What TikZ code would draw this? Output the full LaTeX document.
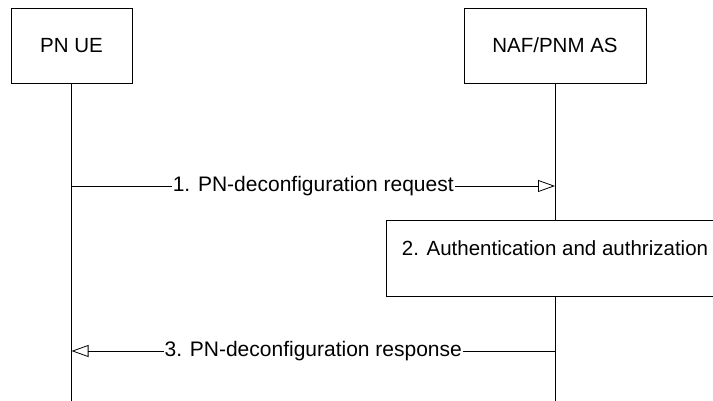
\documentclass[tikz,border=0pt]{standalone}
\usepackage{fontspec}
\setmainfont{Liberation Sans}
\usetikzlibrary{arrows.meta}

\begin{document}
\begin{tikzpicture}[x=1pt,y=-1pt]
\tikzset{entite/.style={draw,line width=0.8pt,minimum width=#1,minimum height=75pt,inner sep=0pt},
entite/.default={121pt},
message/.style={-{Triangle[open,length=17pt,width=12pt]},line width=0.8pt},
etiquette/.style={fill=white,inner sep=1pt}}
\clip (0,0) rectangle (713,401);
\fontsize{20.5}{24}\selectfont
\node[entite] (UE) at (71.5,45.5){PN UE};
\node[entite=182pt] (NAF) at (555,45.5){NAF/PNM AS};
\coordinate (UEbas) at (71.5,401);
\coordinate (NAFbas) at (555,401);

\coordinate (req1) at (71.5,186);
\coordinate (req2) at (555,186);
\node[entite=338pt,minimum height=76pt,text depth=19pt] (AUTH) at (555,258){2. Authentication and authrization};
\coordinate (rep1) at (555,351);
\coordinate (rep2) at (71.5,351);

\draw[line width=0.8pt] (UE) -- (UEbas);
\draw[line width=0.8pt] (NAF) -- (AUTH);
\draw[line width=0.8pt] (AUTH) -- (NAFbas);

\draw[message] (req1) -- (req2) node[midway,etiquette,font=\fontsize{21}{24}\selectfont]{1. PN-deconfiguration request};
\draw[message] (rep1) -- (rep2) node[midway,etiquette,font=\fontsize{21}{24}\selectfont]{3. PN-deconfiguration response};
\end{tikzpicture}
\end{document}
